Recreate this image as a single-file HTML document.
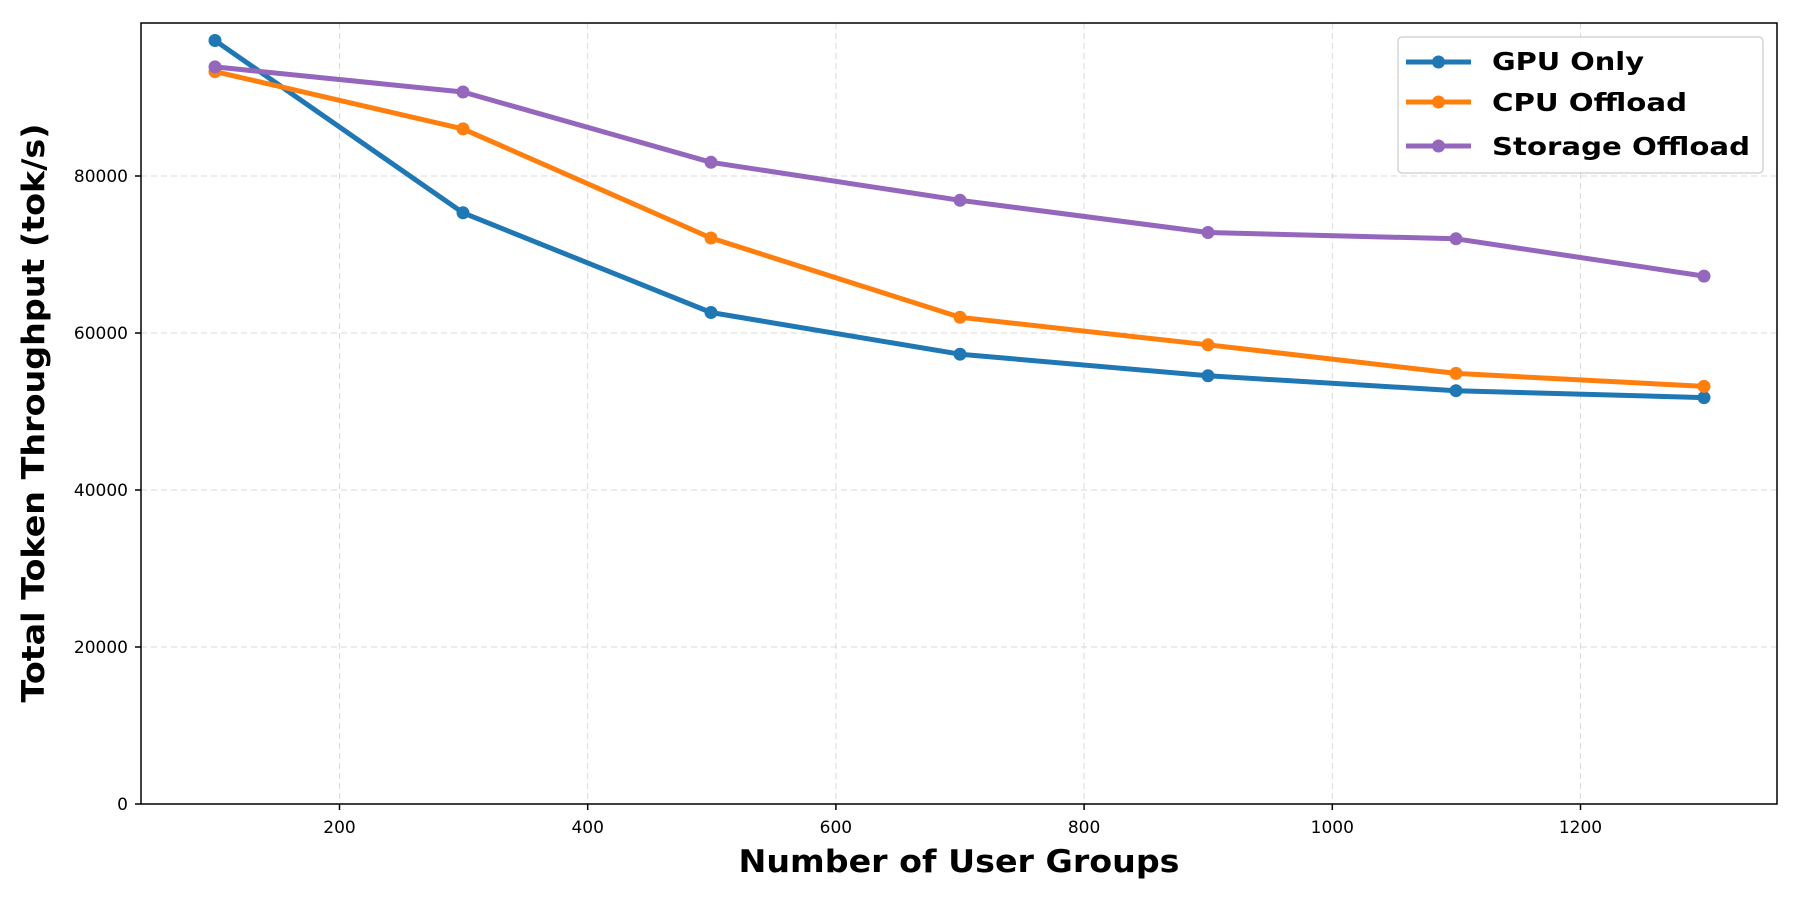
<!DOCTYPE html>
<html><head><meta charset="utf-8"><style>html,body{margin:0;padding:0;background:#fff}svg{display:block}</style></head>
<body>
<svg width="1800" height="900" viewBox="0 0 1800 900" xmlns="http://www.w3.org/2000/svg" font-family="DejaVu Sans, Liberation Sans, sans-serif">
<rect width="1800" height="900" fill="#fff"/>
<g stroke="#d9d9d9" stroke-width="1" stroke-dasharray="6,4">
<line x1="339.5" y1="23" x2="339.5" y2="804"/>
<line x1="587.7" y1="23" x2="587.7" y2="804"/>
<line x1="835.9" y1="23" x2="835.9" y2="804"/>
<line x1="1084.1" y1="23" x2="1084.1" y2="804"/>
<line x1="1332.3" y1="23" x2="1332.3" y2="804"/>
<line x1="1580.5" y1="23" x2="1580.5" y2="804"/>
<line x1="141" y1="647" x2="1777" y2="647"/>
<line x1="141" y1="490" x2="1777" y2="490"/>
<line x1="141" y1="333" x2="1777" y2="333"/>
<line x1="141" y1="176" x2="1777" y2="176"/>
</g>
<g stroke="#000" stroke-width="1.5">
<line x1="339.5" y1="804" x2="339.5" y2="810"/><line x1="587.7" y1="804" x2="587.7" y2="810"/><line x1="835.9" y1="804" x2="835.9" y2="810"/><line x1="1084.1" y1="804" x2="1084.1" y2="810"/><line x1="1332.3" y1="804" x2="1332.3" y2="810"/><line x1="1580.5" y1="804" x2="1580.5" y2="810"/>
<line x1="135" y1="804" x2="141" y2="804"/><line x1="135" y1="647" x2="141" y2="647"/><line x1="135" y1="490" x2="141" y2="490"/><line x1="135" y1="333" x2="141" y2="333"/><line x1="135" y1="176" x2="141" y2="176"/>
</g>
<g font-size="17" fill="#000" text-anchor="middle">
<text x="339.5" y="833">200</text><text x="587.7" y="833">400</text><text x="835.9" y="833">600</text><text x="1084.1" y="833">800</text><text x="1332.3" y="833">1000</text><text x="1580.5" y="833">1200</text>
</g>
<g font-size="17" fill="#000" text-anchor="end">
<text x="128" y="810">0</text><text x="128" y="653">20000</text><text x="128" y="496">40000</text><text x="128" y="339">60000</text><text x="128" y="182">80000</text>
</g>
<text x="959" y="872" font-size="31" font-weight="bold" text-anchor="middle" textLength="441" lengthAdjust="spacingAndGlyphs">Number of User Groups</text>
<text transform="translate(44,413) rotate(-90)" font-size="31" font-weight="bold" text-anchor="middle" textLength="579" lengthAdjust="spacingAndGlyphs">Total Token Throughput (tok/s)</text>
<g fill="none" stroke-width="5" stroke-linejoin="round" stroke-linecap="round">
<polyline stroke="#1f77b4" points="215,40.5 463,212.8 711,312.5 960,354.2 1208,375.8 1456,390.7 1704,397.6"/>
<polyline stroke="#ff7f0e" points="215,71.6 463,128.9 711,238.0 960,317.3 1208,344.8 1456,373.4 1704,386.4"/>
<polyline stroke="#9467bd" points="215,66.9 463,92.0 711,162.3 960,200.3 1208,232.5 1456,238.8 1704,276.1"/>
</g>
<g fill="#1f77b4"><circle cx="215" cy="40.5" r="6.5"/><circle cx="463" cy="212.8" r="6.5"/><circle cx="711" cy="312.5" r="6.5"/><circle cx="960" cy="354.2" r="6.5"/><circle cx="1208" cy="375.8" r="6.5"/><circle cx="1456" cy="390.7" r="6.5"/><circle cx="1704" cy="397.6" r="6.5"/></g>
<g fill="#ff7f0e"><circle cx="215" cy="71.6" r="6.5"/><circle cx="463" cy="128.9" r="6.5"/><circle cx="711" cy="238.0" r="6.5"/><circle cx="960" cy="317.3" r="6.5"/><circle cx="1208" cy="344.8" r="6.5"/><circle cx="1456" cy="373.4" r="6.5"/><circle cx="1704" cy="386.4" r="6.5"/></g>
<g fill="#9467bd"><circle cx="215" cy="66.9" r="6.5"/><circle cx="463" cy="92.0" r="6.5"/><circle cx="711" cy="162.3" r="6.5"/><circle cx="960" cy="200.3" r="6.5"/><circle cx="1208" cy="232.5" r="6.5"/><circle cx="1456" cy="238.8" r="6.5"/><circle cx="1704" cy="276.1" r="6.5"/></g>
<rect x="141" y="23" width="1636" height="781" fill="none" stroke="#000" stroke-width="1.5"/>
<rect x="1398" y="37" width="365" height="136" rx="4" fill="#fff" fill-opacity="0.85" stroke="#ccc" stroke-width="1.2"/>
<g stroke-width="5">
<line x1="1406" y1="62" x2="1471" y2="62" stroke="#1f77b4"/><circle cx="1438.5" cy="62" r="6.5" fill="#1f77b4"/>
<line x1="1406" y1="102" x2="1471" y2="102" stroke="#ff7f0e"/><circle cx="1438.5" cy="102" r="6.5" fill="#ff7f0e"/>
<line x1="1406" y1="146" x2="1471" y2="146" stroke="#9467bd"/><circle cx="1438.5" cy="146" r="6.5" fill="#9467bd"/>
</g>
<g font-size="25" font-weight="bold" fill="#000">
<text x="1492" y="70" textLength="152" lengthAdjust="spacingAndGlyphs">GPU Only</text>
<text x="1492" y="111" textLength="195" lengthAdjust="spacingAndGlyphs">CPU Offload</text>
<text x="1492" y="155" textLength="258" lengthAdjust="spacingAndGlyphs">Storage Offload</text>
</g>
</svg>
</body></html>
